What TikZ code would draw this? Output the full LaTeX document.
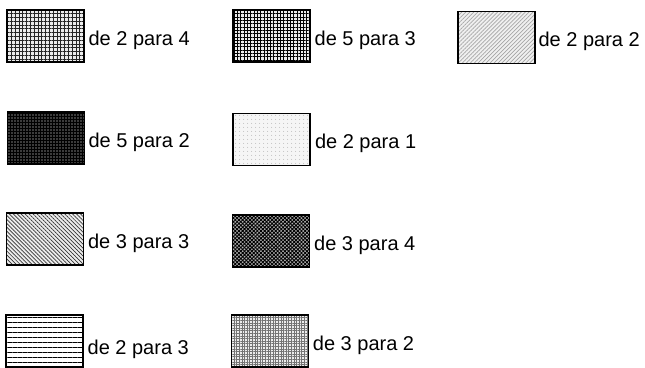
\documentclass[tikz,border=0pt]{standalone}
\usepackage{fontspec}
\setmainfont{Liberation Sans}
\usetikzlibrary{patterns.meta,positioning}

\tikzset{
  swatch/.style={draw, line width=1.6pt, minimum width=77pt, minimum height=52pt, inner sep=0pt},
  lbl/.style={font=\fontsize{20}{24}\selectfont, inner sep=0pt, yshift=-4pt},
  % ── fill patterns ──
  pgridA/.style={preaction={fill=gray!15}, pattern={Hatch[angle=0, distance=3.8pt, line width=0.8pt]}, pattern color=black!85},
  pgridB/.style={preaction={fill=gray!15}, pattern={Hatch[angle=0, distance=3.3pt, line width=0.9pt]}, pattern color=black},
  pdiagNE/.style={preaction={fill=gray!12}, pattern={Lines[angle=45, distance=2.8pt, line width=0.7pt]}, pattern color=gray!70},
  pdark/.style={preaction={fill=black}, pattern={Dots[distance=3pt, radius=0.7pt]}, pattern color=white},
  plight/.style={preaction={fill=gray!8}, pattern={Dots[distance=4pt, radius=0.5pt]}, pattern color=gray!70},
  pdiagNW/.style={preaction={fill=gray!15}, pattern={Lines[angle=-45, distance=2.8pt, line width=0.7pt]}, pattern color=black!80},
  pcheck/.style={preaction={fill=gray!60}, pattern={Hatch[angle=45, distance=2.6pt, line width=0.9pt]}, pattern color=black},
  phoriz/.style={pattern={Lines[angle=0, distance=5pt, line width=0.9pt]}, pattern color=black},
  pnoise/.style={preaction={fill=gray!15}, pattern={Hatch[angle=0, distance=2.6pt, line width=0.5pt]}, pattern color=black!55},
}

\begin{document}
\begin{tikzpicture}[x=1pt, y=1pt]

  % ── Page frame ───────────────────────────────────────────────────
  \useasboundingbox (0,0) rectangle (645,-367);

  % ── Row 1 ────────────────────────────────────────────────────────
  \node[swatch, pgridA]  (s24) at (45.5,-36)  {};
  \node[lbl, right=4pt of s24] (t24) {de 2 para 4};
  \node[swatch, pgridB]  (s53) at (271.5,-36) {};
  \node[lbl, right=4pt of s53] (t53) {de 5 para 3};
  \node[swatch, pdiagNE] (s22) at (496.5,-37.5) {};
  \node[lbl, right=3pt of s22] (t22) {de 2 para 2};

  % ── Row 2 ────────────────────────────────────────────────────────
  \node[swatch, pdark]   (s52) at (46,-138)   {};
  \node[lbl, right=3pt of s52] (t52) {de 5 para 2};
  \node[swatch, plight]  (s21) at (271.5,-139.5) {};
  \node[lbl, right=4pt of s21] (t21) {de 2 para 1};

  % ── Row 3 ────────────────────────────────────────────────────────
  \node[swatch, pdiagNW] (s33) at (45,-239)   {};
  \node[lbl, right=4pt of s33] (t33) {de 3 para 3};
  \node[swatch, pcheck]  (s34) at (271,-241)  {};
  \node[lbl, right=4pt of s34] (t34) {de 3 para 4};

  % ── Row 4 ────────────────────────────────────────────────────────
  \node[swatch, phoriz]  (s23) at (44.5,-341) {};
  \node[lbl, right=4pt of s23, yshift=-4pt] (t23) {de 2 para 3};
  \node[swatch, pnoise]  (s32) at (270,-341)  {};
  \node[lbl, right=4pt of s32] (t32) {de 3 para 2};

\end{tikzpicture}
\end{document}
